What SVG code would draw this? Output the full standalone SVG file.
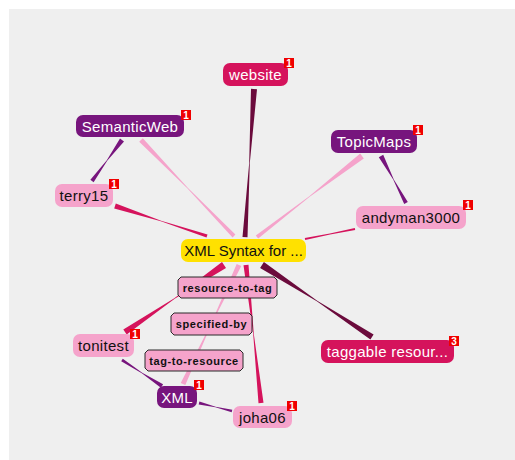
<svg xmlns="http://www.w3.org/2000/svg" width="515" height="460" viewBox="0 0 515 460">
  <style>
    .node text { font-family: "Liberation Sans", Arial, sans-serif; font-size: 15px; letter-spacing: 0.3px; text-anchor: middle; }
    .yellow text { letter-spacing: 0; }
    .crimson rect.box { fill: #d5135c; }
    .purple rect.box { fill: #77157d; }
    .pink rect.box { fill: #f5a3cb; }
    .yellow rect.box { fill: #ffe100; }
    .crimson text, .purple text { fill: #ffffff; }
    .pink text, .yellow text { fill: #111111; }
    .badge rect { fill: #f00000; }
    .node .badge text { fill: #ffffff; font-family: "Liberation Sans", Arial, sans-serif; font-size: 10px; font-weight: bold; letter-spacing: 0; text-anchor: middle; }
    .label polygon { fill: #f5a3cb; stroke: #2a2a2a; stroke-width: 1; }
    .label text { font-family: "Liberation Sans", Arial, sans-serif; font-size: 11px; font-weight: bold; letter-spacing: 0.6px; text-anchor: middle; fill: #111111; }
    .e-maroon { fill: #6b0b3c; }
    .e-crimson { fill: #d5135c; }
    .e-pink { fill: #f5a3cb; }
    .e-purple { fill: #77157d; }
  </style>

  <rect x="9" y="9" width="506" height="451" fill="#efefef"/>

  <!-- bow-tie connectors: wide at each node, pinched at the midpoint -->
  <g id="connectors">
    <polygon class="e-maroon" points="251,88.8 249.2,163 242.5,236.9 247.5,237.2 249.8,163 257,89.2"/>
    <polygon class="e-pink" points="139.2,141.7 187.3,188.2 232.6,237.4 235.4,234.6 187.7,187.8 142.8,138.3"/>
    <polygon class="e-crimson" points="114.2,208.4 160.9,221.3 206.5,237.4 207.5,234.6 161.1,220.7 115.8,203.6"/>
    <polygon class="e-pink" points="360.2,153.6 309.3,196.3 255.8,235.4 258.2,238.6 309.7,196.7 363.8,158.4"/>
    <polygon class="e-crimson" points="354.8,228 329.9,233.6 304.8,238 305.2,240 330.1,234.4 355.2,230"/>
    <polygon class="e-purple" points="120,138.5 106.8,160.3 90.4,179.8 93.6,182.2 107.2,160.7 124,141.5"/>
    <polygon class="e-purple" points="378.8,157.2 393.2,179.6 404.2,203.9 407.8,202.1 393.8,179.4 383.2,154.8"/>
    <polygon class="e-maroon" points="260.1,267.9 316.8,301.3 370.4,339.5 373.6,334.5 317.2,300.8 263.9,262.1"/>
    <polygon class="e-crimson" points="222,262.1 174.3,298.3 123.3,329.5 126.7,334.5 174.7,298.8 226,267.9"/>
    <polygon class="e-pink" points="236.7,263.9 210.7,324.4 180.7,382.9 185.3,385.1 211.3,324.6 241.3,266.1"/>
    <polygon class="e-crimson" points="243.5,265.3 253.2,334 258.5,403.3 263.5,402.7 253.8,334 248.5,264.7"/>
    <polygon class="e-purple" points="121.2,361.3 141.8,373.3 160.9,387.7 163.1,384.3 142.2,372.8 122.8,358.7"/>
    <polygon class="e-purple" points="198.7,404.5 215.4,407.3 231.7,412.2 232.3,409.8 215.6,406.7 199.4,401.5"/>
  </g>

  <!-- relation labels -->
  <g id="label-resource-to-tag" class="label">
    <polygon points="181,277 274,277 277,280 277,295 274,298 181,298 178,295 178,280"/>
    <text x="227.5" y="291.5">resource-to-tag</text>
  </g>
  <g id="label-specified-by" class="label">
    <polygon points="174,313 249,313 252,316 252,332 249,335 174,335 171,332 171,316"/>
    <text x="211.5" y="328">specified-by</text>
  </g>
  <g id="label-tag-to-resource" class="label">
    <polygon points="148,350 240,350 243,353 243,368 240,371 148,371 145,368 145,353"/>
    <text x="194" y="364.5">tag-to-resource</text>
  </g>

  <!-- nodes -->
  <g id="node-website" class="node crimson">
    <rect class="box" x="223" y="63" width="65" height="23" rx="7"/>
    <text x="255.5" y="80">website</text>
    <g class="badge"><rect x="284" y="58" width="10" height="10"/><text x="289" y="66.5">1</text></g>
  </g>
  <g id="node-semanticweb" class="node purple">
    <rect class="box" x="76" y="115" width="108" height="22" rx="7"/>
    <text x="130" y="131.5">SemanticWeb</text>
    <g class="badge"><rect x="181" y="110" width="10" height="10"/><text x="186" y="118.5">1</text></g>
  </g>
  <g id="node-topicmaps" class="node purple">
    <rect class="box" x="331" y="130" width="86" height="23" rx="7"/>
    <text x="374" y="147">TopicMaps</text>
    <g class="badge"><rect x="413" y="125" width="10" height="10"/><text x="418" y="133.5">1</text></g>
  </g>
  <g id="node-terry15" class="node pink">
    <rect class="box" x="55" y="184" width="58" height="23" rx="7"/>
    <text x="84" y="201">terry15</text>
    <g class="badge"><rect x="109" y="179" width="10" height="10"/><text x="114" y="187.5">1</text></g>
  </g>
  <g id="node-andyman3000" class="node pink">
    <rect class="box" x="356" y="206" width="110" height="23" rx="7"/>
    <text x="411" y="223">andyman3000</text>
    <g class="badge"><rect x="463" y="200" width="10" height="10"/><text x="468" y="208.5">1</text></g>
  </g>
  <g id="node-xml-syntax" class="node yellow">
    <rect class="box" x="181" y="239" width="125" height="23" rx="7"/>
    <text x="243.5" y="256">XML Syntax for ...</text>
  </g>
  <g id="node-tonitest" class="node pink">
    <rect class="box" x="73" y="334" width="61" height="23" rx="7"/>
    <text x="103.5" y="351">tonitest</text>
    <g class="badge"><rect x="130" y="329" width="10" height="10"/><text x="135" y="337.5">1</text></g>
  </g>
  <g id="node-xml" class="node purple">
    <rect class="box" x="157" y="386" width="40" height="22" rx="7"/>
    <text x="177" y="402.5">XML</text>
    <g class="badge"><rect x="194" y="380" width="10" height="10"/><text x="199" y="388.5">1</text></g>
  </g>
  <g id="node-joha06" class="node pink">
    <rect class="box" x="233" y="406" width="59" height="22" rx="7"/>
    <text x="262.5" y="422.5">joha06</text>
    <g class="badge"><rect x="287" y="401" width="10" height="10"/><text x="292" y="409.5">1</text></g>
  </g>
  <g id="node-taggable" class="node crimson">
    <rect class="box" x="321" y="340" width="133" height="23" rx="7"/>
    <text x="387.5" y="357">taggable resour...</text>
    <g class="badge"><rect x="449" y="336" width="10" height="10"/><text x="454" y="344.5">3</text></g>
  </g>
</svg>
